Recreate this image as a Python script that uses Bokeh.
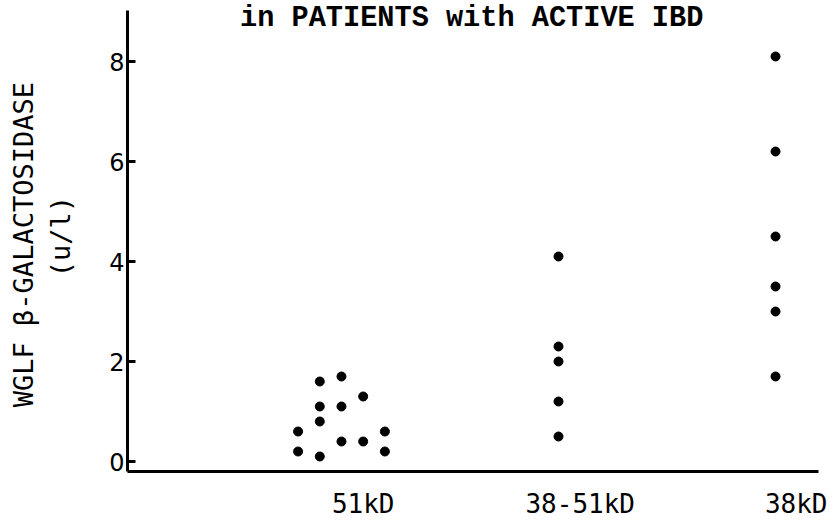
from bokeh.plotting import figure
from bokeh.models import ColumnDataSource, FixedTicker, Range1d, Label
from bokeh.embed import file_html
from bokeh.resources import INLINE

# ---- data ----
categories = ["51kD", "38-51kD", "38kD"]
vals_51 = [1.6, 1.7, 1.3, 1.1, 1.1, 0.8, 0.6, 0.6, 0.4, 0.4, 0.2, 0.1, 0.2]
slots_51 = [-1, 0, 1, -1, 0, -1, -2, 2, 0, 1, -2, -1, 2]   # column within the cluster
vals_38_51 = [4.1, 2.3, 2.0, 1.2, 0.5]
vals_38 = [8.1, 6.2, 4.5, 3.5, 3.0, 1.7]
y_ticks = [0, 2, 4, 6, 8]
title_text = "in PATIENTS with ACTIVE IBD"
y_label = "WGLF \u03b2-GALACTOSIDASE \n(u/l)"

SLOT_W = 0.1
LABEL_SHIFT = 0.1
Y_AXIS_TOP = 9.02

xs, ys = [], []
for s, v in zip(slots_51, vals_51):
    xs.append(1 + s * SLOT_W); ys.append(v)
for v in vals_38_51:
    xs.append(2); ys.append(v)
for v in vals_38:
    xs.append(3); ys.append(v)
src = ColumnDataSource(dict(x=xs, y=ys))

p = figure(frame_width=691, frame_height=470, output_backend="svg", toolbar_location=None,
           x_range=Range1d(0.014, 3.198), y_range=Range1d(-0.2, 9.2))
p.min_border_left = 127
p.min_border_top = 1
p.min_border_right = 9
p.min_border_bottom = 42
p.outline_line_color = None
p.xgrid.visible = False
p.ygrid.visible = False
p.background_fill_color = "white"
p.border_fill_color = "white"

p.scatter("x", "y", source=src, size=9, color="black")

# x axis
xa = p.xaxis[0]
tick_pos = [i + 1 + LABEL_SHIFT for i in range(len(categories))]
xa.ticker = FixedTicker(ticks=tick_pos)
xa.major_label_overrides = {t: c for t, c in zip(tick_pos, categories)}
xa.major_tick_line_color = None
xa.minor_tick_line_color = None
xa.axis_line_width = 3
xa.axis_line_color = "black"
xa.major_label_text_font = "DejaVu Sans Mono"
xa.major_label_text_font_size = "26px"
xa.major_label_text_color = "black"
xa.major_label_standoff = 11

# y axis
ya = p.yaxis[0]
ya.bounds = (-0.2, Y_AXIS_TOP)
ya.ticker = FixedTicker(ticks=y_ticks)
ya.major_tick_in = 8
ya.major_tick_out = 0
ya.major_tick_line_width = 3
ya.major_tick_line_color = "black"
ya.minor_tick_line_color = None
ya.axis_line_width = 3
ya.axis_line_color = "black"
ya.major_label_text_font = "DejaVu Sans"
ya.major_label_text_font_size = "24px"
ya.major_label_text_color = "black"
ya.major_label_standoff = 3
ya.axis_label = y_label
ya.axis_label_text_font = "DejaVu Sans Mono"
ya.axis_label_text_font_size = "27px"
ya.axis_label_text_font_style = "normal"
ya.axis_label_text_color = "black"
ya.axis_label_standoff = 30

title = Label(x=1.6, y=8.87, text=title_text, text_align="center",
              text_baseline="alphabetic", text_font="Liberation Mono",
              text_font_size="28.6px", text_font_style="bold", text_color="black")
p.add_layout(title)

open("out.html", "w").write(file_html(p, INLINE))
